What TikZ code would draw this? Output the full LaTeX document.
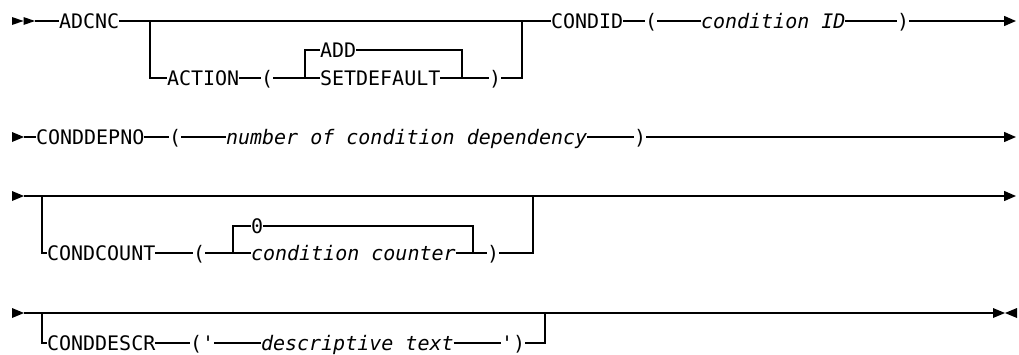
\documentclass[tikz,border=0pt]{standalone}
\usepackage{fontspec}
\setmonofont{DejaVu Sans Mono}
\usetikzlibrary{arrows.meta}
\begin{document}
\begin{tikzpicture}[x=0.5pt,y=-0.5pt,
  rail/.style={line width=0.75pt},
  kw/.style={inner sep=0pt, outer sep=0pt, anchor=west,
    text height=7.3pt, text depth=0pt,
    font=\ttfamily\fontsize{10}{12}\selectfont},
  var/.style={kw, font=\ttfamily\itshape\fontsize{10}{12}\selectfont},
  endtip/.style={-{Triangle[length=6pt,width=5pt]}},
  railtip/.style={fill=black}
]
\useasboundingbox (0,0) rectangle (1019,354);

% ---------- row 1: ADCNC ... CONDID(condition ID)
\fill[railtip] (12,17) -- (23.5,21) -- (12,25) -- cycle;
\fill[railtip] (23.5,17) -- (35,21) -- (23.5,25) -- cycle;
\coordinate (s1) at (35,21);
\node[kw] (adcnc) at (59,21) {ADCNC};
\coordinate (j1a) at (150,21);
\coordinate (j1b) at (522,21);
\node[kw] (action) at (167,78) {ACTION};
\node[kw] (lp1) at (261,78) {(};
\coordinate (j2a) at (305,78);
\node[kw] (add) at (320,50) {ADD};
\node[kw] (setdef) at (320,78) {SETDEFAULT};
\coordinate (j2b) at (462,78);
\node[kw] (rp1) at (489,78) {)};
\node[kw] (condid) at (551,21) {CONDID};
\node[kw] (lp2) at (645,21) {(};
\node[var] (cid) at (701,21) {condition ID};
\node[kw] (rp2) at (897,21) {)};
\coordinate (e1) at (1016,21);

\draw[rail] (s1) -- (adcnc.west);
\draw[rail] (adcnc.east) -- (condid.west);
\draw[rail] (j1a) |- (action.west);
\draw[rail] (action.east) -- (lp1.west);
\draw[rail] (lp1.east) -- (setdef.west);
\draw[rail] (j2a) |- (add.west);
\draw[rail] (add.east) -| (j2b);
\draw[rail] (setdef.east) -- (rp1.west);
\draw[rail] (rp1.east) -| (j1b);
\draw[rail] (condid.east) -- (lp2.west);
\draw[rail] (lp2.east) -- (cid.west);
\draw[rail] (cid.east) -- (rp2.west);
\draw[rail,endtip] (rp2.east) -- (e1);

% ---------- row 2: CONDDEPNO(number of condition dependency)
\fill[railtip] (12,132) -- (24,137) -- (12,142) -- cycle;
\coordinate (s2) at (24,137);
\node[kw] (cdn) at (36,137) {CONDDEPNO};
\node[kw] (lp3) at (169,137) {(};
\node[var] (ncd) at (226,137) {number of condition dependency};
\node[kw] (rp3) at (634,137) {)};
\coordinate (e2) at (1016,137);

\draw[rail] (s2) -- (cdn.west);
\draw[rail] (cdn.east) -- (lp3.west);
\draw[rail] (lp3.east) -- (ncd.west);
\draw[rail] (ncd.east) -- (rp3.west);
\draw[rail,endtip] (rp3.east) -- (e2);

% ---------- row 3: optional CONDCOUNT(0 | condition counter)
\fill[railtip] (12,191) -- (24,196) -- (12,201) -- cycle;
\coordinate (s3) at (24,196);
\coordinate (j3a) at (42,196);
\coordinate (j3b) at (533,196);
\coordinate (e3) at (1016,196);
\node[kw] (ccount) at (47,253) {CONDCOUNT};
\node[kw] (lp4) at (193,253) {(};
\coordinate (j4a) at (233,253);
\node[kw] (zero) at (251,226) {0};
\node[var] (ccnt) at (251,253) {condition counter};
\coordinate (j4b) at (473,253);
\node[kw] (rp4) at (487,253) {)};

\draw[rail,endtip] (s3) -- (e3);
\draw[rail] (j3a) |- (ccount.west);
\draw[rail] (ccount.east) -- (lp4.west);
\draw[rail] (lp4.east) -- (ccnt.west);
\draw[rail] (j4a) |- (zero.west);
\draw[rail] (zero.east) -| (j4b);
\draw[rail] (ccnt.east) -- (rp4.west);
\draw[rail] (rp4.east) -| (j3b);

% ---------- row 4: optional CONDDESCR('descriptive text')
\fill[railtip] (12,308) -- (24,313) -- (12,318) -- cycle;
\coordinate (s4) at (24,313);
\coordinate (j5a) at (42,313);
\coordinate (j5b) at (545,313);
\coordinate (e4) at (993,313);
\node[kw] (cdescr) at (47,343) {CONDDESCR};
\node[kw] (lq) at (190,343) {('};
\node[var] (dtext) at (261,343) {descriptive text};
\node[kw] (rq) at (501,343) {')};

\draw[rail] (s4) -- (e4);
\draw[line width=1.2pt] (550,313) -- (573,313);
\fill[railtip] (993,308) -- (1005,313) -- (993,318) -- cycle;
\fill[railtip] (1017,308) -- (1005,313) -- (1017,318) -- cycle;
\draw[rail] (j5a) |- (cdescr.west);
\draw[rail] (cdescr.east) -- (lq.west);
\draw[rail] (lq.east) -- (dtext.west);
\draw[rail] (dtext.east) -- (rq.west);
\draw[rail] (rq.east) -| (j5b);
\end{tikzpicture}
\end{document}
